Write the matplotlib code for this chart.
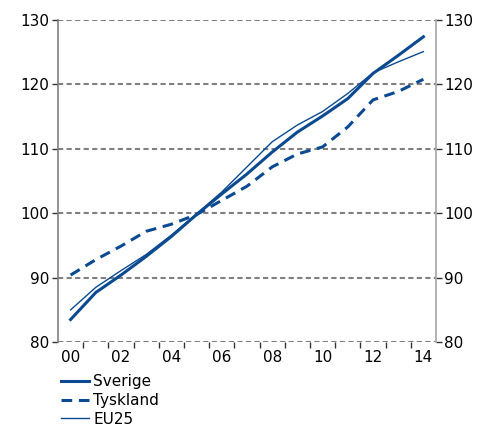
import matplotlib
matplotlib.use("Agg")
import matplotlib.pyplot as plt
import numpy as np

plt.rcParams['font.family'] = ['DejaVu Sans']

years = ['00', '01', '02', '03', '04', '05', '06', '07', '08', '09', '10', '11', '12', '13', '14']
sverige = [83.5, 87.7, 90.4, 93.3, 96.4, 99.8, 103.0, 106.1, 109.5, 112.6, 115.1, 117.8, 121.7, 124.5, 127.4]
tyskland = [90.4, 92.8, 94.9, 97.2, 98.3, 99.8, 102.0, 104.2, 107.2, 109.2, 110.3, 113.4, 117.6, 118.9, 120.8]
eu25 = [85.0, 88.5, 91.1, 93.6, 96.6, 99.9, 103.3, 107.2, 111.1, 113.7, 115.8, 118.6, 121.8, 123.5, 125.1]

blue = '#0b4a91'
grey = '#808080'

fig = plt.figure(figsize=(4.89, 4.26), dpi=100)
ax = fig.add_axes([0.1186, 0.197, 0.773, 0.756])

x = np.arange(len(years))
l1, = ax.plot(x, sverige, color=blue, lw=2.2, label='Sverige')
l2, = ax.plot(x, tyskland, color=blue, lw=2.2, ls=(0, (3.5, 2.2)), label='Tyskland')
l3, = ax.plot(x, eu25, color=blue, lw=1.0, label='EU25')

ax.set_xlim(-0.5, len(years) - 0.5)
ax.set_ylim(80, 130)

# gridlinjer
for v in range(80, 131, 10):
    ax.axhline(v, color=grey, lw=1.5, ls=(0, (2.5, 1.6)), zorder=0)

ax.spines['top'].set_visible(False)
ax.spines['bottom'].set_visible(False)
ax.spines['left'].set_color(grey)
ax.spines['left'].set_linewidth(1.2)
ax.spines['right'].set_color('#a6a6a6')
ax.spines['right'].set_linewidth(1.2)

ax.set_yticks(range(80, 131, 10))
ax.tick_params(axis='y', which='both', left=True, right=True, labelleft=True,
               labelright=True, direction='out', length=4, width=1, color='#333333',
               labelsize=11, pad=2)

ax.set_xticks(x[::2])
ax.set_xticklabels(years[::2])
ax.set_xticks(np.arange(0.5, len(years) - 0.5, 1), minor=True)
ax.tick_params(axis='x', which='major', length=0, labelsize=11, pad=6)
ax.tick_params(axis='x', which='minor', direction='out', length=4, width=1, color='#333333')

fig.legend(handles=[l1, l2, l3], loc='upper left', bbox_to_anchor=(0.125, 0.122),
           frameon=False, fontsize=11, handlelength=1.8, handletextpad=0.3,
           labelspacing=0.25, borderpad=0, borderaxespad=0)

fig.savefig('out.png', dpi=100)
